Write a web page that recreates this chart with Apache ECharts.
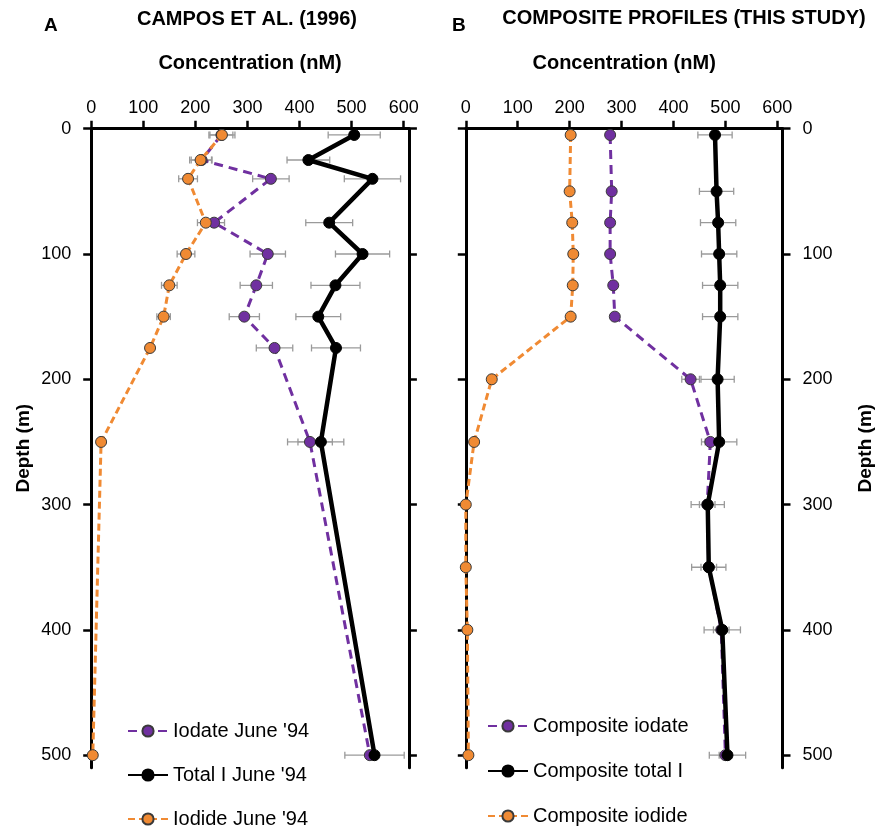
<!DOCTYPE html>
<html>
<head>
<meta charset="utf-8">
<script src="https://cdn.jsdelivr.net/npm/echarts@6/dist/echarts.min.js"></script>
<style>html,body{margin:0;padding:0;background:#fff;}#chart{width:875px;height:827px;}</style>
</head>
<body>
<div id="chart"></div>
<script>
// ---------- Data ----------
var xTicks = [0, 100, 200, 300, 400, 500, 600];
var yTicks = [0, 100, 200, 300, 400, 500];

// Panel A: Campos et al. (1996)
var depthA      = [5, 25, 40, 75, 100, 125, 150, 175, 250, 500];
var iodateA     = [250, 212, 345, 236, 339, 317, 294, 352, 420, 535];
var totalA      = [505, 417, 540, 457, 521, 469, 436, 470, 441, 544];
var iodideA     = [251, 210, 186, 220, 182, 150, 139, 113, 19, 3];
var errIodateA  = [22, 20, 35, 20, 34, 31, 29, 35, 43, 0];
var errTotalA   = [50, 41, 54, 45, 52, 47, 43, 47, 44, 57];
var errIodideA  = [25, 21, 18, 16, 17, 15, 13, 0, 0, 0];

// Panel B: composite profiles (this study)
var depthB      = [5, 50, 75, 100, 125, 150, 200, 250, 300, 350, 400, 500];
var iodateB     = [278, 281, 278, 278, 284, 287, 433, 471, 465, 468, 492, 500];
var totalB      = [480, 483, 486, 488, 490, 490, 485, 488, 466, 468, 494, 504];
var iodideB     = [202, 200, 205, 207, 206, 202, 50, 16, 0, 0, 3, 5];
var errIodateB  = [6, 6, 6, 6, 6, 6, 17, 10, 15, 15, 15, 12];
var errTotalB   = [33, 33, 34, 34, 34, 34, 32, 34, 32, 33, 35, 35];
var errIodideB  = [5, 5, 5, 5, 5, 5, 0, 0, 0, 0, 0, 0];

var namesA = ["Iodate June '94", "Total I June '94", "Iodide June '94"];
var namesB = ["Composite iodate", "Composite total I", "Composite iodide"];

// ---------- Helpers ----------
var FONT = 'Liberation Sans, Arial, Helvetica, sans-serif';
var PURPLE = '#7030A0', ORANGE = '#F08A33', BLACK = '#000000';

function pairs(xs, ys) { return xs.map(function (v, i) { return [v, ys[i]]; }); }
function triples(xs, ys, es) {
  var out = [];
  xs.forEach(function (v, i) { if (es[i] > 0) out.push([v, ys[i], es[i]]); });
  return out;
}

function renderErr(params, api) {
  var x = api.value(0), y = api.value(1), e = api.value(2);
  var l = api.coord([x - e, y]), r = api.coord([x + e, y]);
  var h = 3.5;
  var st = { stroke: '#9a9a9a', lineWidth: 1.3 };
  return {
    type: 'group',
    children: [
      { type: 'line', shape: { x1: l[0], y1: l[1], x2: r[0], y2: r[1] }, style: st },
      { type: 'line', shape: { x1: l[0], y1: l[1] - h, x2: l[0], y2: l[1] + h }, style: st },
      { type: 'line', shape: { x1: r[0], y1: r[1] - h, x2: r[0], y2: r[1] + h }, style: st }
    ]
  };
}

function xAxisFor(gridIndex) {
  return {
    type: 'value', gridIndex: gridIndex, position: 'top', min: 0, max: 610,
    name: 'Concentration (nM)', nameLocation: 'middle', nameGap: 55,
    nameTextStyle: { fontFamily: FONT, fontSize: 20, fontWeight: 'bold', color: '#000' },
    axisLine: { show: true, lineStyle: { color: '#000', width: 3 } },
    axisTick: { show: true, customValues: xTicks, length: 8, lineStyle: { color: '#000', width: 2.5 } },
    axisLabel: { show: true, customValues: xTicks, margin: 12, fontFamily: FONT, fontSize: 18, color: '#000' },
    splitLine: { show: false }
  };
}

function yAxisFor(gridIndex, pos, showLabels, showName) {
  var ax = {
    type: 'value', gridIndex: gridIndex, position: pos, inverse: true, min: 0, max: 510,
    axisLine: { show: true, onZero: false, lineStyle: { color: '#000', width: 3 } },
    axisTick: { show: true, customValues: yTicks, length: 8, lineStyle: { color: '#000', width: 2.5 } },
    axisLabel: { show: showLabels, customValues: yTicks, margin: 20, fontFamily: FONT, fontSize: 18, color: '#000' },
    splitLine: { show: false }
  };
  if (showName) {
    ax.name = 'Depth (m)';
    ax.nameLocation = 'middle';
    ax.nameRotate = 90;
    ax.nameGap = pos === 'left' ? 58 : 74;
    ax.nameTextStyle = { fontFamily: FONT, fontSize: 19, fontWeight: 'bold', color: '#000' };
  }
  return ax;
}

function lineSeries(name, xIdx, yIdx, xs, ys, color, width, dash, z) {
  return {
    type: 'line', name: name, xAxisIndex: xIdx, yAxisIndex: yIdx,
    data: pairs(xs, ys), z: z,
    symbol: 'circle', symbolSize: 11,
    itemStyle: { color: color, borderColor: color === BLACK ? '#000' : '#3a3a3a', borderWidth: 1 },
    lineStyle: { color: color, width: width, type: dash },
    emphasis: { disabled: true }
  };
}

function errSeries(xIdx, yIdx, xs, ys, es) {
  return {
    type: 'custom', name: 'err', xAxisIndex: xIdx, yAxisIndex: yIdx, z: 1,
    renderItem: renderErr, encode: { x: 0, y: 1 },
    data: triples(xs, ys, es), silent: true
  };
}

function legendFor(names, left, top, gap) {
  return {
    data: names, orient: 'vertical', left: left, top: top, width: 300, height: 200, padding: 0,
    itemWidth: 40, itemHeight: 14, itemGap: gap,
    textStyle: { fontFamily: FONT, fontSize: 20, color: '#000', lineHeight: 20 }, selectedMode: false
  };
}

var chart = echarts.init(document.getElementById('chart'), null, { renderer: 'canvas' });

var option = {
  animation: false,
  backgroundColor: '#fff',
  grid: [
    { left: 91.2, top: 128.7, width: 317.7, height: 639, containLabel: false, outerBoundsMode: 'none' },
    { left: 465.8, top: 128.7, width: 316.7, height: 639, containLabel: false, outerBoundsMode: 'none' }
  ],
  xAxis: [xAxisFor(0), xAxisFor(1)],
  yAxis: [
    yAxisFor(0, 'left', true, true),
    yAxisFor(0, 'right', false, false),
    yAxisFor(1, 'left', false, false),
    yAxisFor(1, 'right', true, true)
  ],
  legend: [
    legendFor(namesA, 127, 721, 24),
    legendFor(namesB, 487, 716, 25)
  ],
  graphic: [
    { type: 'text', left: 44, top: 16, style: { text: 'A', font: 'bold 19px ' + FONT, fill: '#000' } },
    { type: 'text', left: 452, top: 16, style: { text: 'B', font: 'bold 19px ' + FONT, fill: '#000' } }
  ],
  title: [
    { text: 'CAMPOS ET AL. (1996)', left: 247, top: 9, textAlign: 'center',
      textStyle: { fontFamily: FONT, fontSize: 20, fontWeight: 'bold', color: '#000' }, padding: 0 },
    { text: 'COMPOSITE PROFILES (THIS STUDY)', left: 684, top: 8, textAlign: 'center',
      textStyle: { fontFamily: FONT, fontSize: 20, fontWeight: 'bold', color: '#000' }, padding: 0 }
  ],
  series: [
    errSeries(0, 0, totalA, depthA, errTotalA),
    errSeries(0, 0, iodateA, depthA, errIodateA),
    errSeries(0, 0, iodideA, depthA, errIodideA),
    lineSeries(namesA[0], 0, 0, iodateA, depthA, PURPLE, 3, [9, 6], 2),
    lineSeries(namesA[1], 0, 0, totalA, depthA, BLACK, 4.5, 'solid', 3),
    lineSeries(namesA[2], 0, 0, iodideA, depthA, ORANGE, 3, [7, 4], 4),

    errSeries(1, 2, totalB, depthB, errTotalB),
    errSeries(1, 2, iodateB, depthB, errIodateB),
    errSeries(1, 2, iodideB, depthB, errIodideB),
    lineSeries(namesB[0], 1, 2, iodateB, depthB, PURPLE, 3, [9, 6], 2),
    lineSeries(namesB[1], 1, 2, totalB, depthB, BLACK, 4.5, 'solid', 3),
    lineSeries(namesB[2], 1, 2, iodideB, depthB, ORANGE, 3, [7, 4], 4)
  ]
};
chart.setOption(option);
</script>
</body>
</html>
